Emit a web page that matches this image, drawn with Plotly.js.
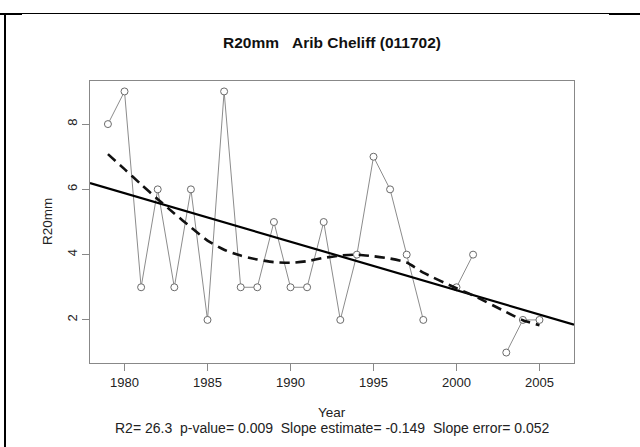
<!DOCTYPE html>
<html>
<head>
<meta charset="utf-8">
<script src="https://cdn.plot.ly/plotly-3.0.1.min.js"></script>
<style>html,body{margin:0;padding:0;background:#fff;}#chart{width:640px;height:447px;}</style>
</head>
<body>
<div id="chart"></div>
<script>
// ---- data ----
const years = [1979,1980,1981,1982,1983,1984,1985,1986,1987,1988,1989,1990,1991,1992,1993,1994,1995,1996,1997,1998,1999,2000,2001,2002,2003,2004,2005];
const r20mm = [8,9,3,6,3,6,2,9,3,3,5,3,3,5,2,4,7,6,4,2,null,3,4,null,1,2,2];
const smoothYears = [1979,1980,1981,1982,1983,1984,1985,1986,1987,1988,1989,1990,1991,1992,1993,1994,1995,1996,1997,1998,2000,2001,2003,2004,2005];
const smoothVals = [7.08,6.62,6.15,5.70,5.26,4.84,4.43,4.15,3.97,3.85,3.77,3.75,3.80,3.90,3.97,4.00,3.95,3.88,3.76,3.45,2.97,2.75,2.24,1.99,1.84];
const xTicks = [1980,1985,1990,1995,2000,2005];
const yTicks = [2,4,6,8];
const titleText = 'R20mm\u00a0\u00a0\u00a0Arib Cheliff (011702)';
const xTitle = 'Year';
const statsText = 'R2= 26.3\u00a0\u00a0p-value= 0.009\u00a0\u00a0Slope estimate= -0.149\u00a0\u00a0Slope error= 0.052';
const yTitle = 'R20mm';

// ---- layout geometry ----
const W = 640, H = 447;
const L = 90, R = 66, T = 81, B = 84;
const pw = W - L - R, ph = H - T - B;
const px = p => (p - L) / pw;           // pixel -> paper x
const py = p => (H - B - p) / ph;       // pixel -> paper y
const xRange = [1977.92, 2007.08];
const yRange = [0.68, 9.32];

// ---- least squares fit computed from the data ----
let n = 0, sx = 0, sy = 0, sxx = 0, sxy = 0;
years.forEach((x, i) => {
  const y = r20mm[i];
  if (y === null) return;
  n++; sx += x; sy += y; sxx += x * x; sxy += x * y;
});
const slope = (n * sxy - sx * sy) / (n * sxx - sx * sx);
const intercept = (sy - slope * sx) / n;
const fitX = xRange.slice();
const fitY = fitX.map(x => intercept + slope * x);

const font = 'Liberation Sans, Arial, sans-serif';
const txt = '#222';

const traces = [
  {
    x: years, y: r20mm, type: 'scatter', mode: 'lines+markers',
    connectgaps: false,
    line: {color: '#8c8c8c', width: 1},
    marker: {symbol: 'circle', size: 7, color: '#ffffff', line: {color: '#6a6a6a', width: 1}},
    hoverinfo: 'skip'
  },
  {
    x: fitX, y: fitY, type: 'scatter', mode: 'lines',
    line: {color: '#000', width: 2.2}, hoverinfo: 'skip'
  },
  {
    x: smoothYears, y: smoothVals, type: 'scatter', mode: 'lines',
    line: {color: '#111', width: 2.6, dash: '10px,6px', shape: 'spline', smoothing: 0.6},
    hoverinfo: 'skip'
  }
];

const layout = {
  width: W, height: H,
  margin: {l: L, r: R, t: T, b: B, pad: 0, autoexpand: false},
  paper_bgcolor: '#fff', plot_bgcolor: '#fff',
  showlegend: false,
  font: {family: font, size: 13, color: txt},
  title: {
    text: '<b>' + titleText + '</b>',
    font: {family: font, size: 15.5, color: '#111'},
    xref: 'paper', x: 0.5, xanchor: 'center',
    yref: 'container', y: 1 - 43 / H, yanchor: 'middle'
  },
  xaxis: {
    range: xRange, tickmode: 'array', tickvals: xTicks,
    ticks: 'outside', ticklen: 7, tickcolor: '#888', tickwidth: 1,
    showline: true, linecolor: '#888', linewidth: 1, mirror: true,
    showgrid: false, zeroline: false,
    tickfont: {family: font, size: 13, color: txt}
  },
  yaxis: {
    range: yRange, tickmode: 'array', tickvals: yTicks,
    ticks: 'outside', ticklen: 7, tickcolor: '#888', tickwidth: 1,
    showline: true, linecolor: '#888', linewidth: 1, mirror: true,
    showgrid: false, zeroline: false, tickangle: -90,
    tickfont: {family: font, size: 13, color: txt}
  },
  annotations: [
    {text: xTitle, xref: 'paper', yref: 'paper', x: 0.5, y: py(412), xanchor: 'center', yanchor: 'middle',
     showarrow: false, font: {family: font, size: 13.5, color: txt}},
    {text: statsText, xref: 'paper', yref: 'paper', x: 0.5, y: py(428), xanchor: 'center', yanchor: 'middle',
     showarrow: false, font: {family: font, size: 14, color: txt}},
    {text: yTitle, xref: 'paper', yref: 'paper', x: px(47), y: 0.5, xanchor: 'center', yanchor: 'middle',
     textangle: -90, showarrow: false, font: {family: font, size: 13.5, color: txt}}
  ],
  shapes: [
    {type: 'rect', xref: 'paper', yref: 'paper', x0: px(22), x1: px(609), y0: py(13), y1: py(14),
     fillcolor: '#000', line: {width: 0}},
    {type: 'rect', xref: 'paper', yref: 'paper', x0: px(0), x1: px(22), y0: py(13), y1: py(15),
     fillcolor: '#000', line: {width: 0}},
    {type: 'rect', xref: 'paper', yref: 'paper', x0: px(609), x1: px(640), y0: py(13), y1: py(15),
     fillcolor: '#000', line: {width: 0}},
    {type: 'rect', xref: 'paper', yref: 'paper', x0: px(4), x1: px(6), y0: py(13), y1: py(447),
     fillcolor: '#000', line: {width: 0}}
  ]
};

Plotly.newPlot('chart', traces, layout, {staticPlot: true, displayModeBar: false});
</script>
</body>
</html>
